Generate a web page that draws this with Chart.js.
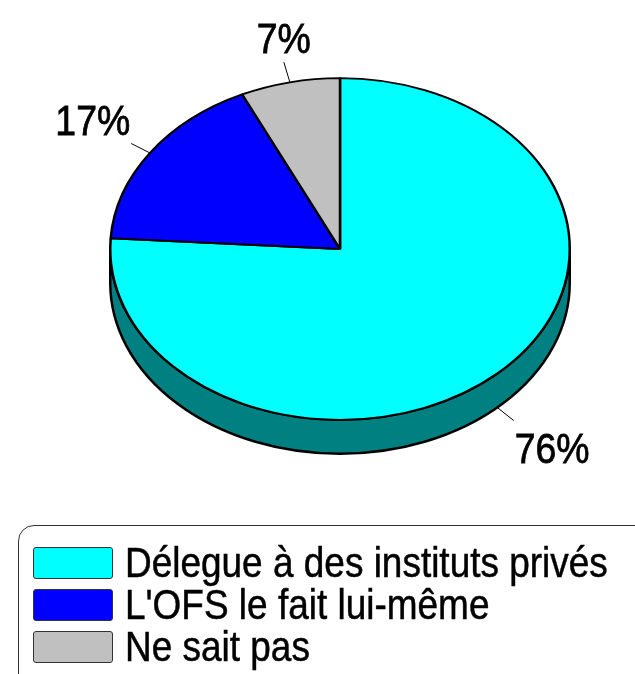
<!DOCTYPE html>
<html>
<head>
<meta charset="utf-8">
<script src="https://cdn.jsdelivr.net/npm/chart.js@4.4.0/dist/chart.umd.min.js"></script>
<style>
  body { margin: 0; background: #fff; }
  #wrap { position: relative; width: 635px; height: 674px; overflow: hidden; }
  #main_chart { position: absolute; left: 0; top: 0; }
  #legend {
    position: absolute; left: 18px; top: 525px; width: 640px; height: 170px;
    border: 1.5px solid #333; border-radius: 16px; box-sizing: border-box;
    padding: 16px 0 0 14px;
    font-family: "Liberation Sans", Arial, sans-serif;
    font-size: 42px; color: #000; white-space: nowrap;
  }
  .row { display: flex; align-items: center; height: 42px; }
  .box { flex: none; width: 80px; height: 32px; box-sizing: border-box; border: 1px solid #333; border-radius: 3px; margin-right: 12px; }
  .txt { display: inline-block; transform: scaleX(0.88); transform-origin: left center; -webkit-text-stroke: 0.5px #000; }
</style>
</head>
<body>
<div id="wrap">
  <canvas id="main_chart" width="635" height="674"></canvas>
  <div id="legend"></div>
</div>
<script>
const labels = ['Délegue à des instituts privés', "L'OFS le fait lui-même", 'Ne sait pas'];
const values = [76, 17, 7];
const pct_labels = ['76%', '17%', '7%'];

const colors = ['#00ffff', '#0000ff', '#c0c0c0'];
const side_colors = ['#008080', '#000080', '#808080'];

const tilt = 171 / 230;   // vertical squash of the pie
const depth = 34;         // thickness of the side
const narrow = 0.87;      // narrow look from Liberation Sans
const label_font = '43px "Liberation Sans", Arial, sans-serif';

const pie_3d = {
  id: 'pie_3d',
  beforeDatasetsDraw(chart) {
    const { ctx } = chart;
    const arcs = chart.getDatasetMeta(0).data;
    const cx = arcs[0].x, cy = arcs[0].y, r = arcs[0].outerRadius;
    const ry = r * tilt;

    // front side, only the part between 0 and PI is visible
    arcs.forEach((arc, i) => {
      const a0 = Math.max(arc.startAngle, 0);
      const a1 = Math.min(arc.endAngle, Math.PI);
      if (a1 <= a0) return;
      ctx.save();
      ctx.beginPath();
      ctx.ellipse(cx, cy, r, ry, 0, a0, a1);
      ctx.ellipse(cx, cy + depth, r, ry, 0, a1, a0, true);
      ctx.closePath();
      ctx.fillStyle = side_colors[i];
      ctx.fill();
      ctx.lineWidth = 2.5;
      ctx.strokeStyle = '#000';
      ctx.stroke();
      ctx.restore();
    });

    ctx.save();
    ctx.translate(cx, cy);
    ctx.scale(1, tilt);
    ctx.translate(-cx, -cy);
  },
  afterDatasetsDraw(chart) {
    const { ctx } = chart;
    ctx.restore();

    const arcs = chart.getDatasetMeta(0).data;
    ctx.save();
    ctx.font = label_font;
    ctx.fillStyle = '#000';
    ctx.strokeStyle = '#000';
    arcs.forEach((arc, i) => {
      const r = arc.outerRadius, ry = r * tilt;
      const mid = (arc.startAngle + arc.endAngle) / 2;
      const c = Math.cos(mid), s = Math.sin(mid);
      const x0 = arc.x + c * r;
      const y0 = arc.y + s * ry + (s > 0 ? depth : 0);
      const len = Math.hypot(c * r, s * ry);
      const dx = c * r / len, dy = s * ry / len;
      const x1 = x0 + dx * 21, y1 = y0 + dy * 21;
      ctx.lineWidth = 1;
      ctx.beginPath();
      ctx.moveTo(x0, y0);
      ctx.lineTo(x1, y1);
      ctx.stroke();

      let tx = x1;
      let align = 'center';
      if (dx > 0.5) { align = 'left'; tx = x1 + 1; }
      else if (dx < -0.5) { align = 'right'; tx = x1 - 1; }
      const ty = dy > 0 ? y1 + 11 + 31 : y1 - 9;
      ctx.save();
      ctx.translate(tx, ty);
      ctx.scale(narrow, 1);
      ctx.textAlign = align;
      ctx.textBaseline = 'alphabetic';
      ctx.lineWidth = 0.8;
      ctx.fillText(pct_labels[i], 0, 0);
      ctx.strokeText(pct_labels[i], 0, 0);
      ctx.restore();
    });
    ctx.restore();
  }
};

new Chart('main_chart', {
  type: 'pie',
  data: {
    labels: labels,
    datasets: [{
      data: values,
      backgroundColor: colors,
      borderColor: '#000',
      borderWidth: 2.5,
    }]
  },
  options: {
    responsive: false,
    animation: false,
    layout: { padding: { left: 109, right: 64, top: 18, bottom: 194 } },
    plugins: {
      legend: { display: false },
      tooltip: { enabled: false },
    },
  },
  plugins: [pie_3d],
});

const legend = document.getElementById('legend');
labels.forEach((label, i) => {
  const row = document.createElement('div');
  row.className = 'row';
  const box = document.createElement('div');
  box.className = 'box';
  box.style.background = colors[i];
  const text = document.createElement('span');
  text.className = 'txt';
  text.textContent = label;
  row.appendChild(box);
  row.appendChild(text);
  legend.appendChild(row);
});
</script>
</body>
</html>
